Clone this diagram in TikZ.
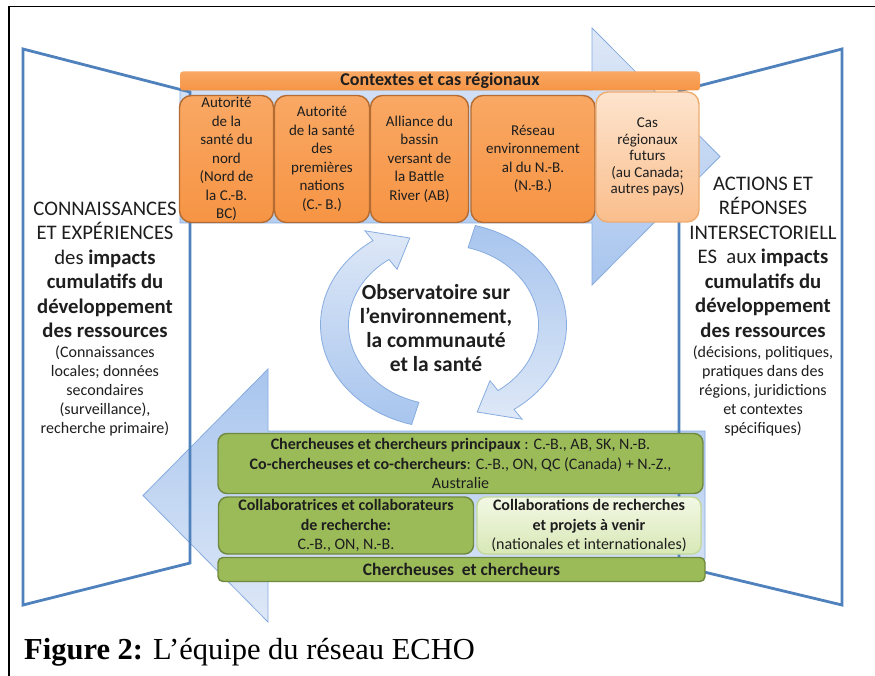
\documentclass[tikz,border=0pt]{standalone}
\usepackage{fontspec}
\setmainfont{Carlito}
\newfontfamily\capfont{Liberation Serif}
\definecolor{panelblue}{RGB}{79,129,189}
\definecolor{arrL}{RGB}{222,232,247}
\definecolor{arrD}{RGB}{168,197,238}
\definecolor{arrEdge}{RGB}{135,172,224}
\definecolor{orMain}{RGB}{246,148,68}
\definecolor{orTop}{RGB}{249,168,100}
\definecolor{orEdge}{RGB}{180,108,50}
\definecolor{orLtTop}{RGB}{253,228,206}
\definecolor{orLtBot}{RGB}{250,190,140}
\definecolor{orLtEdge}{RGB}{238,172,112}
\definecolor{grMain}{RGB}{155,187,89}
\definecolor{grEdge}{RGB}{112,136,62}
\definecolor{grLtTop}{RGB}{242,248,228}
\definecolor{grLtBot}{RGB}{216,232,182}
\definecolor{grLtEdge}{RGB}{196,216,156}
\definecolor{txt}{RGB}{30,30,30}
\tikzset{
  panel/.style={draw=panelblue, line width=2.8pt, line join=miter},
  bigarrow/.style={draw=arrEdge, line width=0.8pt},
  cyclearrow/.style={draw=arrEdge, line width=0.8pt},
  obox/.style={rectangle, rounded corners=12pt, draw=orEdge, line width=1.4pt,
    top color=orTop, bottom color=orMain, inner sep=0pt, align=center,
    text=txt, font=\fontsize{15}{18.5}\selectfont},
  oltbox/.style={obox, draw=orLtEdge, top color=orLtTop, bottom color=orLtBot,
    font=\fontsize{15}{16.5}\selectfont},
  gbox/.style={rectangle, rounded corners=9pt, draw=grEdge, line width=1.4pt,
    fill=grMain, inner sep=0pt, align=center, text=txt,
    font=\fontsize{16}{19.5}\selectfont},
  gltbox/.style={gbox, draw=grLtEdge, top color=grLtTop, bottom color=grLtBot},
  bigtxt/.style={align=center, text=txt, font=\fontsize{20.7}{24.5}\selectfont},
  smalltxt/.style={align=center, text=txt, font=\fontsize{16}{19}\selectfont},
}
\begin{document}
\begin{tikzpicture}[x=1pt,y=-1pt]
\useasboundingbox (0,0) rectangle (875,676);
\fill[white] (0,0) rectangle (875,676);
% page frame
\draw[black, line width=1.3pt] (9,676) -- (9,6.5) -- (875,6.5);

% big arrows
\draw[bigarrow, top color=arrL, bottom color=arrD]
  (180,90) -- (592,90) -- (592,28) -- (720,156.5) -- (592,285) -- (592,223) -- (180,223) -- cycle;
\draw[bigarrow, top color=arrD, bottom color=arrL]
  (705,431) -- (268,431) -- (268,369) -- (143,495.5) -- (268,622) -- (268,559) -- (705,559) -- cycle;

% side panels
\draw[panel] (23,49) -- (190,92) -- (190,563) -- (23,605) -- cycle;
\draw[panel] (842,49) -- (679,91) -- (679,566) -- (842,605) -- cycle;

% orange header bar
\node[rectangle, rounded corners=3pt, top color=orTop, bottom color=orMain,
  minimum width=520pt, minimum height=19pt, inner sep=0pt, text=txt,
  font=\fontsize{18}{20}\selectfont\bfseries] (ctx) at (440,81) {Contextes et cas régionaux};

% orange boxes
\node[obox, minimum width=94pt, minimum height=127pt] (b1) at (226.5,159)
  {Autorité\\de la\\santé du\\nord\\(Nord de\\la C.-B.\\BC)};
\node[obox, minimum width=95pt, minimum height=127pt] (b2) at (322,159)
  {Autorité\\de la santé\\des\\premières\\nations\\(C.- B.)};
\node[obox, minimum width=98pt, minimum height=127pt] (b3) at (419.5,159)
  {Alliance du\\bassin\\versant de\\la Battle\\River (AB)};
\node[obox, minimum width=124pt, minimum height=127pt] (b4) at (533,159)
  {Réseau\\environnement\\al du N.-B.\\(N.-B.)};
\node[oltbox, minimum width=103pt, minimum height=130pt] (b5) at (647.5,157)
  {Cas\\régionaux\\futurs\\(au Canada;\\autres pays)};

% green boxes
\node[gbox, minimum width=485pt, minimum height=60pt] (g1) at (460.5,463.5)
  {\textbf{Chercheuses et chercheurs principaux} : C.-B., AB, SK, N.-B.\\
   \textbf{Co-chercheuses et co-chercheurs}: C.-B., ON, QC (Canada) + N.-Z.,\\
   Australie};
\node[gbox, minimum width=255pt, minimum height=57pt] (g2) at (346,525.5)
  {\textbf{Collaboratrices et collaborateurs}\\\textbf{de recherche:}\\C.-B., ON, N.-B.};
\node[gltbox, minimum width=224pt, minimum height=57pt] (g3) at (589,525.5)
  {\textbf{Collaborations de recherches}\\\textbf{et projets à venir}\\(nationales et internationales)};
\node[gbox, rounded corners=5pt, minimum width=487pt, minimum height=24pt,
  font=\fontsize{17.5}{19}\selectfont\bfseries] (g4) at (461.5,569.5)
  {Chercheuses~ et chercheurs};

% cycle arrows
\begin{scope}[shift={(443.5,325)}]
\draw[cyclearrow, top color=arrL, bottom color=arrD]
  (-255:95 and 80) arc[start angle=-255, end angle=-125, x radius=95, y radius=80]
  -- (-125:81 and 68) -- (-108:109 and 91.5) -- (-125:137 and 115)
  -- (-125:123 and 103) arc[start angle=-125, end angle=-255, x radius=123, y radius=103]
  -- cycle;
\draw[cyclearrow, top color=arrD, bottom color=arrL]
  (-75:95 and 80) arc[start angle=-75, end angle=55, x radius=95, y radius=80]
  -- (55:81 and 68) -- (72:109 and 91.5) -- (55:137 and 115)
  -- (55:123 and 103) arc[start angle=55, end angle=-75, x radius=123, y radius=103]
  -- cycle;
\end{scope}
\node[align=center, text=txt, font=\fontsize{21.5}{24}\selectfont\bfseries] (obs) at (436,328)
  {Observatoire sur\\l’environnement,\\la communauté\\et la santé};

% left panel text
\node[bigtxt] (lbig) at (105,270)
  {CONNAISSANCES\\ET EXPÉRIENCES\\des \textbf{impacts}\\\textbf{cumulatifs du}\\\textbf{développement}\\\textbf{des ressources}};
\node[smalltxt] (lsmall) at (105,391)
  {(Connaissances\\locales; données\\secondaires\\(surveillance),\\recherche primaire)};

% right panel text
\node[bigtxt] (rbig) at (763,257)
  {ACTIONS ET\\RÉPONSES\\INTERSECTORIELL\\ES~ aux \textbf{impacts}\\\textbf{cumulatifs du}\\\textbf{développement}\\\textbf{des ressources}};
\node[smalltxt] (rsmall) at (763,391)
  {(décisions, politiques,\\pratiques dans des\\régions, juridictions\\et contextes\\spécifiques)};

% caption
\node[anchor=base west, inner sep=0pt, font=\capfont\fontsize{30.5}{34}\selectfont] (cap) at (24,659)
  {\textbf{Figure 2:} L’équipe du réseau ECHO};
\end{tikzpicture}
\end{document}
